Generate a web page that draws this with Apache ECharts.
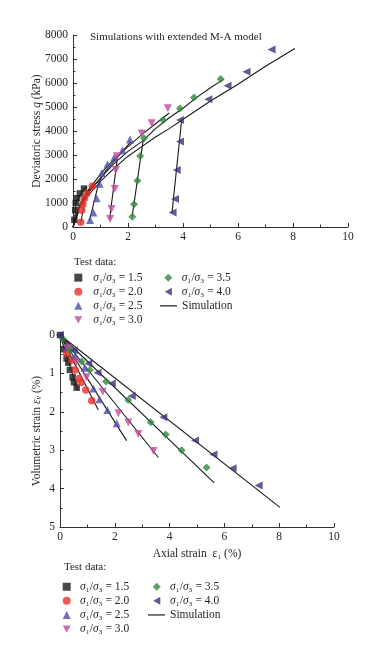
<!DOCTYPE html>
<html>
<head>
<meta charset="utf-8">
<script src="https://cdn.jsdelivr.net/npm/echarts@6/dist/echarts.min.js"></script>
<style>
html,body{margin:0;padding:0;background:#fff;}
#chart{width:384px;height:660px;}
</style>
</head>
<body>
<div id="chart"></div>
<script>
// ---------- DATA ----------
const ratioNames = ['σ₁/σ₃ = 1.5','σ₁/σ₃ = 2.0','σ₁/σ₃ = 2.5','σ₁/σ₃ = 3.0','σ₁/σ₃ = 3.5','σ₁/σ₃ = 4.0'];
const xTicks = [0, 2, 4, 6, 8, 10];
const qTicks = [0, 1000, 2000, 3000, 4000, 5000, 6000, 7000, 8000];
const evTicks = [0, 1, 2, 3, 4, 5];

// Upper chart: axial strain (%) vs deviatoric stress q (kPa) — test data
const qTest15 = [[0.05,300],[0.08,700],[0.1,1000],[0.15,1200],[0.25,1400],[0.4,1600]];
const qTest20 = [[0.28,200],[0.32,700],[0.36,950],[0.42,1200],[0.5,1400],[0.7,1700]];
const qTest25 = [[0.62,290],[0.74,600],[0.86,1200],[0.97,1800],[1.05,2250],[1.25,2600],[1.5,2900],[1.8,3200],[2.07,3650]];
const qTest30 = [[1.35,330],[1.4,750],[1.52,1580],[1.56,2380],[1.6,2950],[2.5,3900],[2.86,4320],[3.45,4950]];
const qTest35 = [[2.16,430],[2.22,945],[2.34,1930],[2.44,2960],[2.58,3700],[3.28,4460],[3.89,4940],[4.4,5400],[5.37,6170]];
const qTest40 = [[3.62,600],[3.71,1170],[3.77,2370],[3.89,3560],[3.89,4460],[4.92,5320],[5.62,5890],[6.31,6470],[7.22,7400]];
// Upper chart — simulation
const qSim15 = [[0.05,100],[0.12,1050],[0.3,1400],[0.5,1700]];
const qSim20 = [[0.28,150],[0.45,1250],[0.6,1500],[0.8,1750]];
const qSim25 = [[0.6,280],[0.95,1900],[1.2,2350],[1.5,2750],[1.8,3150],[2.1,3550]];
const qSim30 = [[1.33,330],[1.62,2950],[2.0,3350],[2.5,3850],[3.0,4300],[3.5,4750]];
const qSim35 = [[2.15,430],[2.55,3600],[3.0,4100],[3.5,4550],[4.0,4950],[4.5,5400],[5.0,5800],[5.47,6150]];
const qSim40 = [[3.6,600],[3.95,4450],[5.0,5250],[6.0,5950],[7.0,6700],[8.07,7440]];
// Upper chart — simulated initial loading curves from the origin
const qEnv25 = [[0,0],[0.25,950],[0.5,1450],[0.75,1750],[0.95,1900]];
const qEnv30 = [[0,0],[0.25,900],[0.5,1450],[1.0,2200],[1.3,2600],[1.62,2950]];
const qEnv35 = [[0,0],[0.25,850],[0.5,1350],[1.0,2050],[1.5,2650],[2.0,3150],[2.55,3600]];
const qEnv40 = [[0,0],[0.25,800],[0.5,1250],[1.0,1900],[1.5,2450],[2.0,2950],[2.5,3350],[3.0,3750],[3.5,4100],[3.95,4450]];

// Lower chart: axial strain (%) vs volumetric strain (%) — test data
const evTest15 = [[0,0],[0.12,0.37],[0.24,0.61],[0.3,0.72],[0.36,0.91],[0.46,1.1],[0.51,1.23],[0.61,1.37]];
const evTest20 = [[0.24,0.48],[0.43,0.65],[0.55,0.91],[0.69,1.13],[0.77,1.24],[0.94,1.43],[1.16,1.71]];
const evTest25 = [[0.25,0.3],[0.55,0.55],[0.9,0.85],[1.22,1.39],[1.44,1.67],[1.73,1.95],[2.07,2.3]];
const evTest30 = [[0.3,0.35],[0.6,0.7],[0.97,1.1],[1.56,1.48],[2.13,2.04],[2.49,2.28],[2.86,2.58],[3.41,3.02]];
const evTest35 = [[0.1,0.1],[0.4,0.4],[0.79,0.69],[1.09,0.91],[1.68,1.21],[2.49,1.69],[3.31,2.27],[3.86,2.59],[4.44,3.0],[5.35,3.45]];
const evTest40 = [[0,0],[0.5,0.4],[1.03,0.74],[1.37,0.98],[1.89,1.26],[2.62,1.59],[3.77,2.14],[4.93,2.75],[5.6,3.11],[6.3,3.47],[7.25,3.92]];
// Lower chart — simulation
const evSim15 = [[0,0],[0.65,1.45]];
const evSim20 = [[0,0],[1.4,1.95]];
const evSim25 = [[0,0],[2.43,2.75]];
const evSim30 = [[0,0],[3.59,3.19]];
const evSim35 = [[0,0],[5.63,3.85]];
const evSim40 = [[0,0],[8.03,4.49]];

// ---------- STYLE ----------
const FONT = '"Liberation Serif", "DejaVu Serif", serif';
const TXT = '#231f20';
const colors = ['#1a1a1a','#e8312a','#4b4fa6','#c2499b','#2e8a3c','#3b3278'];
const symbols = ['rect','circle','triangle','triangle','diamond','triangle'];
const rotates = [0,0,0,180,0,90];
const sizes = [6.5,7.5,8,8,8,8];
const legendIcons = ['rect','circle','triangle','path://M0,0 L10,0 L5,9 Z','diamond','path://M9,0 L9,10 L0,5 Z'];

const qTests = [qTest15,qTest20,qTest25,qTest30,qTest35,qTest40];
const qSims = [qSim15,qSim20,qSim25,qSim30,qSim35,qSim40];
const qEnvs = [qEnv25,qEnv30,qEnv35,qEnv40];
const evTests = [evTest15,evTest20,evTest25,evTest30,evTest35,evTest40];
const evSims = [evSim15,evSim20,evSim25,evSim30,evSim35,evSim40];

function simSeries(data, idx){
  return {name:'Simulation', type:'line', xAxisIndex:idx, yAxisIndex:idx, data:data,
    symbol:'none', lineStyle:{color:'#1a1a1a', width:1.1}, itemStyle:{color:'#1a1a1a'}, z:2, animation:false};
}
function testSeries(data, i, idx){
  return {name:ratioNames[i], type:'scatter', xAxisIndex:idx, yAxisIndex:idx, data:data,
    symbol:symbols[i], symbolRotate:rotates[i], symbolSize:sizes[i],
    itemStyle:{color:colors[i]}, z:3, animation:false};
}

const series = [];
qSims.forEach(d => series.push(simSeries(d,0)));
qEnvs.forEach(d => series.push(simSeries(d,0)));
evSims.forEach(d => series.push(simSeries(d,1)));
qTests.forEach((d,i) => series.push(testSeries(d,i,0)));
evTests.forEach((d,i) => series.push(testSeries(d,i,1)));

const plainLabel = v => String(v);

function xAxisCfg(gi, name){
  return {type:'value', gridIndex:gi, min:xTicks[0], max:xTicks[xTicks.length-1], interval:xTicks[1]-xTicks[0],
    name:name, nameLocation:'middle', nameGap:21, nameMoveOverlap:false,
    nameTextStyle:{fontFamily:FONT, fontSize:11.5, color:TXT},
    axisLine:{show:true, onZero:false, lineStyle:{color:'#333', width:1}},
    axisTick:{show:true, inside:true, length:4, lineStyle:{color:'#333'}},
    minorTick:{show:true, splitNumber:2, length:2.5, lineStyle:{color:'#333'}},
    splitLine:{show:false},
    axisLabel:{fontFamily:FONT, fontSize:11.5, color:TXT, margin:4, formatter:plainLabel}};
}

function legendCfg(left, top, idxs, padLeft){
  return {
    left:left, top:top, orient:'vertical', itemWidth:8, itemHeight:8, itemGap:0,
    selectedMode:false,
    data:idxs.map(i => ({name:ratioNames[i], icon:legendIcons[i]})),
    formatter: n => n.replace(/σ/g,'{i|σ}'),
    textStyle:{fontFamily:FONT, fontSize:11.5, color:TXT, lineHeight:14.1, padding:[0,0,0,padLeft],
      rich:{i:{fontFamily:FONT, fontSize:11.5, fontStyle:'italic', color:TXT, lineHeight:14.1}}}
  };
}
function simLegendCfg(left, top){
  return {
    left:left, top:top, orient:'vertical', itemWidth:17, itemHeight:1.2, itemGap:0,
    selectedMode:false,
    data:[{name:'Simulation', icon:'rect', itemStyle:{color:'#1a1a1a'}}],
    textStyle:{fontFamily:FONT, fontSize:11.5, color:TXT, lineHeight:14.1, padding:[0,0,0,0]}
  };
}

const option = {
  backgroundColor:'#fff',
  animation:false,
  title:[
    {text:'Simulations with extended M-A model', left:85, top:27, textStyle:{fontFamily:FONT, fontSize:11, fontWeight:'normal', color:TXT}},
    {text:'Test data:', left:69, top:252, textStyle:{fontFamily:FONT, fontSize:11, fontWeight:'normal', color:TXT}},
    {text:'Test data:', left:59, top:557, textStyle:{fontFamily:FONT, fontSize:11, fontWeight:'normal', color:TXT}}
  ],
  grid:[
    {left:73, top:35, width:275, height:192},
    {left:60, top:335, width:274, height:192}
  ],
  xAxis:[
    xAxisCfg(0, ''),
    xAxisCfg(1, 'Axial strain  ε₁ (%)')
  ],
  yAxis:[
    {type:'value', gridIndex:0, min:qTicks[0], max:qTicks[qTicks.length-1], interval:qTicks[1]-qTicks[0],
      name:'Deviatoric stress {i|q} (kPa)', nameLocation:'middle', nameGap:30, nameMoveOverlap:false,
      nameTextStyle:{fontFamily:FONT, fontSize:11.5, color:TXT, rich:{i:{fontFamily:FONT,fontSize:11.5,fontStyle:'italic',color:TXT}}},
      axisLine:{show:true, onZero:false, lineStyle:{color:'#333'}},
      axisTick:{show:true, inside:true, length:4, lineStyle:{color:'#333'}},
      minorTick:{show:true, splitNumber:2, length:2.5, lineStyle:{color:'#333'}},
      splitLine:{show:false},
      axisLabel:{fontFamily:FONT, fontSize:11.5, color:TXT, margin:5, formatter:plainLabel}},
    {type:'value', gridIndex:1, inverse:true, min:evTicks[0], max:evTicks[evTicks.length-1], interval:evTicks[1]-evTicks[0],
      name:'Volumetric strain {i|ε}{s|v} (%)', nameLocation:'middle', nameGap:17, nameMoveOverlap:false,
      nameTextStyle:{fontFamily:FONT, fontSize:11.5, color:TXT, rich:{
        i:{fontFamily:FONT,fontSize:11.5,fontStyle:'italic',color:TXT},
        s:{fontFamily:FONT,fontSize:8,fontStyle:'italic',color:TXT,verticalAlign:'bottom',padding:[5,0,0,0]}}},
      axisLine:{show:true, onZero:false, lineStyle:{color:'#333'}},
      axisTick:{show:true, inside:true, length:4, lineStyle:{color:'#333'}},
      minorTick:{show:true, splitNumber:2, length:2.5, lineStyle:{color:'#333'}},
      splitLine:{show:false},
      axisLabel:{fontFamily:FONT, fontSize:11.5, color:TXT, margin:5, formatter:plainLabel}}
  ],
  legend:[
    legendCfg(69.3, 265.6, [0,1,2,3], 6),
    legendCfg(159.3, 265.6, [4,5], 4.4),
    simLegendCfg(155, 293.8),
    legendCfg(57.7, 574.7, [0,1,2,3], 4.3),
    legendCfg(147.7, 574.7, [4,5], 4.3),
    simLegendCfg(143, 602.9)
  ],
  series: series
};

const chart = echarts.init(document.getElementById('chart'), null, {renderer:'canvas'});
chart.setOption(option);
</script>
</body>
</html>
